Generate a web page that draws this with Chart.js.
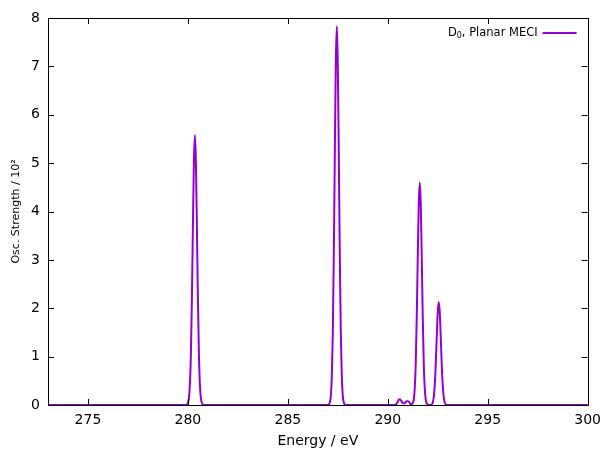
<!DOCTYPE html>
<html>
<head>
<meta charset="utf-8">
<script src="https://cdn.jsdelivr.net/npm/chart.js@4"></script>
<style>
  html, body { margin: 0; padding: 0; background: #fff; }
  #wrap { width: 608px; height: 451px; }
</style>
</head>
<body>
<div id="wrap"><canvas id="graf" width="608" height="451"></canvas></div>
<script>
// dados
const serieNome = ['D', '0', ', Planar MECI']
const xTicks = [275, 280, 285, 290, 295, 300]
const yTicks = [0, 1, 2, 3, 4, 5, 6, 7, 8]

const energia = [
  273.0, 279.9, 279.95, 280.0, 280.05, 280.1, 280.15, 280.2, 280.25, 280.3, 280.35, 280.4, 280.45, 280.5, 280.55, 280.6, 280.65, 280.7, 280.75, 280.8,
  287.0, 287.05, 287.1, 287.15, 287.2, 287.25, 287.3, 287.35, 287.4, 287.45, 287.5, 287.55, 287.6, 287.65, 287.7, 287.75, 287.8, 287.85, 287.9,
  290.35, 290.4, 290.45, 290.5, 290.55, 290.6, 290.65, 290.7, 290.75, 290.8, 290.85, 290.9, 290.95, 291.0, 291.05, 291.1, 291.15, 291.2, 291.25,
  291.3, 291.35, 291.4, 291.45, 291.5, 291.55, 291.6, 291.65, 291.7, 291.75, 291.8, 291.85, 291.9, 291.95, 292.0, 292.05,
  292.15, 292.2, 292.25, 292.3, 292.35, 292.4, 292.45, 292.5, 292.55, 292.6, 292.65, 292.7, 292.75, 292.8, 292.85, 292.9, 292.95, 293.0,
  300.0
]
const forca = [
  0, 0, 0.01, 0.04, 0.14, 0.42, 1.07, 2.20, 3.69, 5.03, 5.58, 5.03, 3.69, 2.20, 1.07, 0.42, 0.14, 0.04, 0.01, 0,
  0, 0.01, 0.05, 0.19, 0.59, 1.50, 3.09, 5.18, 7.06, 7.83, 7.06, 5.18, 3.09, 1.50, 0.59, 0.19, 0.05, 0.01, 0,
  0, 0.01, 0.03, 0.07, 0.11, 0.12, 0.10, 0.07, 0.04, 0.03, 0.04, 0.06, 0.08, 0.08, 0.07, 0.04, 0.02, 0.02, 0.04,
  0.11, 0.35, 0.88, 1.82, 3.05, 4.15, 4.60, 4.15, 3.05, 1.82, 0.88, 0.35, 0.11, 0.03, 0.01, 0,
  0, 0.01, 0.05, 0.16, 0.41, 0.84, 1.41, 1.92, 2.13, 1.92, 1.41, 0.84, 0.41, 0.16, 0.05, 0.01, 0, 0,
  0
]

const roxo = '#9400d3'

// moldura + ticks para dentro (estilo gnuplot)
const moldura = {
  id: 'moldura',
  afterDraw(chart) {
    const c = chart.ctx
    const a = chart.chartArea
    const xs = chart.scales.x, ys = chart.scales.y
    c.save()
    c.strokeStyle = '#000'
    c.lineWidth = 1
    c.beginPath()
    xTicks.forEach(v => {
      const px = Math.round(xs.getPixelForValue(v)) + 0.5
      c.moveTo(px, a.bottom); c.lineTo(px, a.bottom - 6)
      c.moveTo(px, a.top); c.lineTo(px, a.top + 6)
    })
    yTicks.forEach(v => {
      const py = Math.round(ys.getPixelForValue(v)) + 0.5
      c.moveTo(a.left, py); c.lineTo(a.left + 6, py)
      c.moveTo(a.right, py); c.lineTo(a.right - 6, py)
    })
    c.stroke()
    c.strokeRect(Math.round(a.left) + 0.5, Math.round(a.top) + 0.5, Math.round(a.right - a.left), Math.round(a.bottom - a.top))

    // legenda: texto à esquerda, linha à direita
    const yL = a.top + 15
    c.font = '11.5px "DejaVu Sans"'
    c.fillStyle = '#000'
    c.textBaseline = 'middle'
    const w1 = c.measureText(serieNome[0]).width
    c.font = '8px "DejaVu Sans"'
    const w2 = c.measureText(serieNome[1]).width
    c.font = '11.5px "DejaVu Sans"'
    const w3 = c.measureText(serieNome[2]).width
    const xEnd = a.right - 50
    let x0 = xEnd - (w1 + w2 + w3)
    c.textAlign = 'left'
    c.fillText(serieNome[0], x0, yL)
    c.font = '8px "DejaVu Sans"'
    c.fillText(serieNome[1], x0 + w1, yL + 3)
    c.font = '11.5px "DejaVu Sans"'
    c.fillText(serieNome[2], x0 + w1 + w2, yL)
    c.strokeStyle = roxo
    c.lineWidth = 2
    c.beginPath()
    c.moveTo(a.right - 45, yL); c.lineTo(a.right - 11, yL)
    c.stroke()
    c.restore()
  }
}

const ctx = document.getElementById('graf').getContext('2d')

const grafico = new Chart(ctx, {
  type: 'line',
  data: {
    datasets: [{
      label: serieNome.join(''),
      data: energia.map((e, i) => ({ x: e, y: forca[i] })),
      borderColor: roxo,
      borderWidth: 2,
      borderJoinStyle: 'round',
      borderCapStyle: 'round',
      cubicInterpolationMode: 'monotone',  // evita o "fast path" que deixa os picos serrilhados
      pointRadius: 0,
      fill: false
    }]
  },
  options: {
    responsive: false,
    animation: false,
    layout: { padding: { top: 18, right: 20, left: 0, bottom: 0 } },
    plugins: {
      legend: { display: false },
      tooltip: { enabled: false }
    },
    scales: {
      x: {
        type: 'linear',
        min: 273,
        max: 300,
        afterBuildTicks: s => { s.ticks = xTicks.map(v => ({ value: v })) },
        afterFit: s => { s.height = 46 },
        grid: { display: false, drawTicks: false },
        border: { display: false },
        ticks: { color: '#000', font: { family: 'DejaVu Sans', size: 14 }, padding: 7, maxRotation: 0 },
        title: { display: true, text: 'Energy / eV', color: '#000', font: { family: 'DejaVu Sans', size: 14 }, padding: { top: 3, bottom: 1 } }
      },
      y: {
        min: 0,
        max: 8,
        afterBuildTicks: s => { s.ticks = yTicks.map(v => ({ value: v })) },
        afterFit: s => { s.width = 48 },
        grid: { display: false, drawTicks: false },
        border: { display: false },
        ticks: { color: '#000', font: { family: 'DejaVu Sans', size: 14 }, padding: 8 },
        title: { display: true, text: 'Osc. Strength / 10²', color: '#000', font: { family: 'DejaVu Sans', size: 11 }, padding: { top: 10, bottom: 0 } }
      }
    }
  },
  plugins: [moldura]
})
</script>
</body>
</html>
